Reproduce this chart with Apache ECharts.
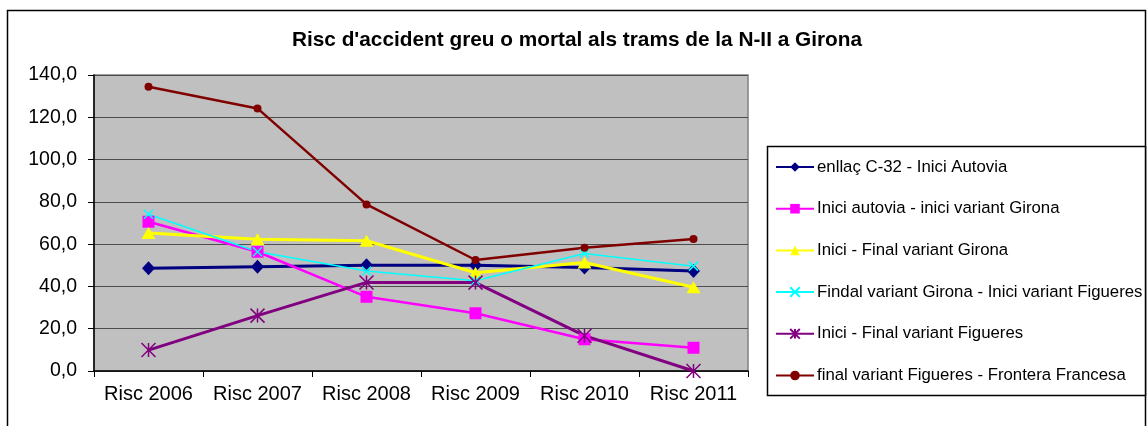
<!DOCTYPE html>
<html>
<head>
<meta charset="utf-8">
<script src="https://cdn.jsdelivr.net/npm/echarts@6/dist/echarts.min.js"></script>
<style>
html,body{margin:0;padding:0;background:#fff;}
#chart{width:1147px;height:426px;}
</style>
</head>
<body>
<div id="chart"></div>
<script>
const titleText = "Risc d'accident greu o mortal als trams de la N-II a Girona";
const categories = ['Risc 2006', 'Risc 2007', 'Risc 2008', 'Risc 2009', 'Risc 2010', 'Risc 2011'];
const seriesNames = [
  'enllaç C-32 - Inici Autovia',
  'Inici autovia - inici variant Girona',
  'Inici - Final variant Girona',
  'Findal variant Girona - Inici variant Figueres',
  'Inici - Final variant Figueres',
  'final variant Figueres - Frontera Francesa'
];
const enllacC32 = [48.6, 49.3, 50.0, 50.0, 49.0, 47.3];
const iniciAutovia = [70.6, 56.4, 35.1, 27.3, 15.0, 11.0];
const finalVariantGirona = [65.3, 62.3, 61.6, 46.5, 51.3, 39.6];
const findalVariantGirona = [74.1, 56.4, 47.3, 42.7, 55.6, 49.6];
const finalVariantFigueres = [9.9, 26.2, 41.9, 41.8, 16.7, 0.0];
const fronteraFrancesa = [134.4, 124.2, 78.8, 52.5, 58.3, 62.4];
const yTicks = {min: 0, max: 140, interval: 20};

const FONT = "'Liberation Sans', Arial, sans-serif";
const styles = [
  {color: '#000080', symbol: 'diamond', size: [13, 14], width: 3},
  {color: '#FF00FF', symbol: 'rect', size: 12, width: 2.5},
  {color: '#FFFF00', symbol: 'triangle', size: [14, 12], width: 3},
  {color: '#00FFFF', symbol: 'path://M0,0L10,10M10,0L0,10', size: 9, width: 1.5, stroke: true},
  {color: '#800080', symbol: 'path://M0,0L10,10M10,0L0,10M5,0L5,10', size: 14, width: 3, stroke: true},
  {color: '#800000', symbol: 'circle', size: 8, width: 2.5}
];
const values = [enllacC32, iniciAutovia, finalVariantGirona, findalVariantGirona, finalVariantFigueres, fronteraFrancesa];

const series = values.map((v, i) => {
  const s = styles[i];
  return {
    name: seriesNames[i],
    type: 'line',
    data: v,
    color: s.color,
    symbol: s.symbol,
    symbolSize: s.size,
    showAllSymbol: true,
    animation: false,
    lineStyle: {color: s.color, width: s.width},
    itemStyle: s.stroke
      ? {color: s.color, borderColor: s.color, borderWidth: 1.5}
      : {color: s.color, borderWidth: 0},
    emphasis: {disabled: true}
  };
});

const chart = echarts.init(document.getElementById('chart'), null, {renderer: 'canvas'});
chart.setOption({
  animation: false,
  backgroundColor: '#ffffff',
  title: {
    text: titleText,
    left: 572,
    textAlign: 'center',
    top: 25,
    textStyle: {fontFamily: FONT, fontSize: 20.8, fontWeight: 'bold', color: '#000'}
  },
  graphic: [
    {type: 'rect', z: 0, shape: {x: 7.5, y: 10.5, width: 1138, height: 430},
     style: {fill: 'transparent', stroke: '#000', lineWidth: 1.5}},
    {type: 'rect', z: 0, shape: {x: 767.5, y: 146.5, width: 378, height: 249},
     style: {fill: '#fff', stroke: '#000', lineWidth: 1.5}}
  ],
  legend: {
    orient: 'vertical',
    left: 775,
    top: 157,
    padding: 0,
    itemWidth: 38,
    itemHeight: 12,
    itemGap: 21.7,
    textStyle: {fontFamily: FONT, fontSize: 16.8, color: '#000', lineHeight: 20, padding: [0, 0, 0, -2]},
    data: seriesNames
  },
  grid: {
    left: 94, top: 75, right: 399, bottom: 55,
    show: true,
    backgroundColor: '#C0C0C0',
    borderColor: '#808080',
    borderWidth: 1.5
  },
  xAxis: {
    type: 'category',
    data: categories,
    boundaryGap: true,
    axisLine: {lineStyle: {color: '#000', width: 1.5}},
    axisTick: {show: true, length: 6, lineStyle: {color: '#000', width: 1}},
    axisLabel: {fontFamily: FONT, fontSize: 20, color: '#000', margin: 13, interval: 0},
    splitLine: {show: false}
  },
  yAxis: {
    type: 'value',
    min: yTicks.min,
    max: yTicks.max,
    interval: yTicks.interval,
    axisLine: {show: true, lineStyle: {color: '#000', width: 1.5}},
    axisTick: {show: true, length: 6, lineStyle: {color: '#000', width: 1}},
    axisLabel: {
      fontFamily: FONT, fontSize: 19.5, color: '#000', margin: 17,
      formatter: v => v.toFixed(1).replace('.', ',')
    },
    splitLine: {show: true, lineStyle: {color: '#4d4d4d', width: 1.2}}
  },
  series: series
});
</script>
</body>
</html>
